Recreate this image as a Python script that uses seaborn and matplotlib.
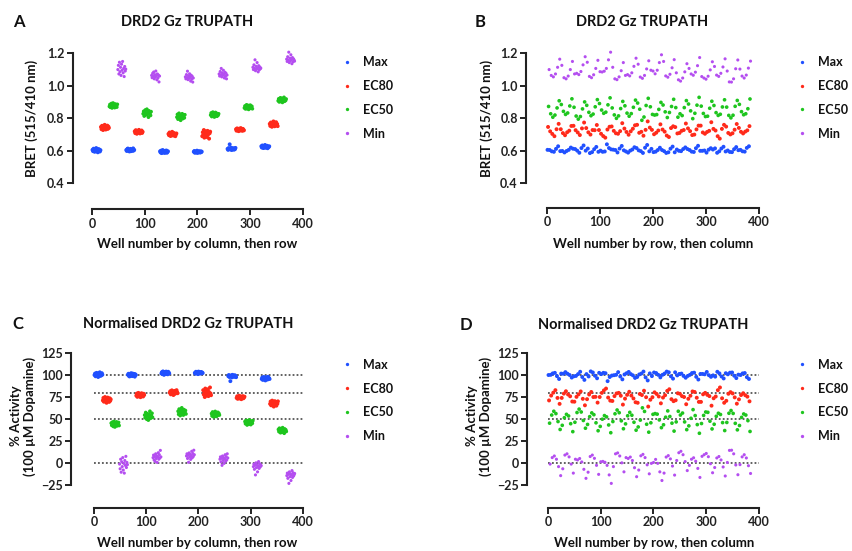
"""
DRD2 Gz TRUPATH plate uniformity: raw BRET and normalised activity.
"""
import numpy as np
import pandas as pd
import matplotlib
matplotlib.use('Agg')
import matplotlib.pyplot as plt
from matplotlib.lines import Line2D
import seaborn as sns

W, H = 853, 551

conditions = ['Max', 'EC80', 'EC50', 'Min']
palette = {'Max': '#2050ff', 'EC80': '#ff2a1a', 'EC50': '#1ec51e', 'Min': '#b44ef0'}
sizes = {'Max': 8, 'EC80': 8, 'EC50': 7, 'Min': 5}

# BRET (515/410 nm) per plate column, rows A-P.
# Plate columns cycle Max, EC80, EC50, Min -> 6 columns per condition.
max_cols = [
    [0.604, 0.596, 0.611, 0.599, 0.592, 0.607, 0.601, 0.615, 0.595, 0.603, 0.589, 0.609, 0.598, 0.606, 0.594, 0.602],
    [0.603, 0.597, 0.609, 0.612, 0.599, 0.605, 0.594, 0.601, 0.610, 0.596, 0.606, 0.603, 0.598, 0.613, 0.600, 0.604],
    [0.595, 0.588, 0.599, 0.584, 0.592, 0.603, 0.587, 0.596, 0.590, 0.585, 0.598, 0.593, 0.600, 0.586, 0.591, 0.595],
    [0.592, 0.597, 0.586, 0.590, 0.594, 0.588, 0.599, 0.585, 0.593, 0.589, 0.596, 0.591, 0.587, 0.595, 0.590, 0.593],
    [0.610, 0.604, 0.615, 0.608, 0.638, 0.612, 0.606, 0.617, 0.603, 0.611, 0.609, 0.614, 0.605, 0.612, 0.608, 0.616],
    [0.626, 0.618, 0.631, 0.622, 0.615, 0.628, 0.620, 0.634, 0.617, 0.624, 0.619, 0.629, 0.614, 0.623, 0.621, 0.626],
]
ec80_cols = [
    [0.745, 0.731, 0.752, 0.738, 0.726, 0.748, 0.735, 0.758, 0.741, 0.729, 0.744, 0.736, 0.753, 0.733, 0.747, 0.739],
    [0.718, 0.707, 0.725, 0.712, 0.703, 0.721, 0.714, 0.709, 0.727, 0.716, 0.705, 0.719, 0.711, 0.723, 0.708, 0.715],
    [0.702, 0.694, 0.711, 0.698, 0.689, 0.706, 0.697, 0.715, 0.700, 0.692, 0.708, 0.695, 0.703, 0.688, 0.699, 0.705],
    [0.688, 0.712, 0.695, 0.726, 0.679, 0.703, 0.718, 0.691, 0.709, 0.683, 0.721, 0.698, 0.714, 0.673, 0.706, 0.716],
    [0.731, 0.722, 0.736, 0.725, 0.729, 0.719, 0.734, 0.727, 0.723, 0.738, 0.726, 0.730, 0.721, 0.733, 0.728, 0.724],
    [0.764, 0.751, 0.772, 0.757, 0.746, 0.768, 0.755, 0.779, 0.761, 0.749, 0.766, 0.753, 0.774, 0.758, 0.763, 0.750],
]
ec50_cols = [
    [0.871, 0.883, 0.866, 0.878, 0.889, 0.862, 0.875, 0.892, 0.869, 0.880, 0.864, 0.886, 0.873, 0.877, 0.867, 0.884],
    [0.826, 0.841, 0.812, 0.835, 0.849, 0.819, 0.830, 0.854, 0.822, 0.838, 0.805, 0.844, 0.828, 0.833, 0.816, 0.839],
    [0.805, 0.822, 0.793, 0.814, 0.829, 0.798, 0.811, 0.786, 0.818, 0.803, 0.826, 0.796, 0.809, 0.816, 0.801, 0.820],
    [0.818, 0.831, 0.809, 0.824, 0.836, 0.813, 0.827, 0.806, 0.821, 0.834, 0.815, 0.829, 0.811, 0.823, 0.817, 0.826],
    [0.862, 0.874, 0.856, 0.869, 0.881, 0.858, 0.866, 0.877, 0.853, 0.871, 0.864, 0.879, 0.860, 0.868, 0.872, 0.857],
    [0.906, 0.918, 0.899, 0.913, 0.924, 0.902, 0.910, 0.921, 0.896, 0.915, 0.907, 0.927, 0.903, 0.912, 0.908, 0.917],
]
min_cols = [
    [1.098, 1.124, 1.071, 1.143, 1.085, 1.112, 1.062, 1.131, 1.094, 1.148, 1.078, 1.105, 1.055, 1.117, 1.089, 1.101],
    [1.062, 1.048, 1.075, 1.056, 1.083, 1.041, 1.067, 1.052, 1.089, 1.059, 1.035, 1.071, 1.046, 1.064, 1.022, 1.058],
    [1.053, 1.041, 1.067, 1.048, 1.088, 1.036, 1.059, 1.044, 1.072, 1.051, 1.027, 1.063, 1.039, 1.056, 1.021, 1.046],
    [1.071, 1.058, 1.086, 1.066, 1.105, 1.053, 1.078, 1.062, 1.094, 1.069, 1.046, 1.082, 1.057, 1.075, 1.041, 1.064],
    [1.112, 1.098, 1.127, 1.105, 1.158, 1.091, 1.118, 1.102, 1.141, 1.109, 1.084, 1.122, 1.096, 1.114, 1.103, 1.107],
    [1.162, 1.148, 1.177, 1.155, 1.205, 1.141, 1.168, 1.152, 1.189, 1.159, 1.134, 1.172, 1.146, 1.164, 1.157, 1.150],
]

bret_ticks = [0.4, 0.6, 0.8, 1.0, 1.2]
pct_ticks = [-25, 0, 25, 50, 75, 100, 125]
pct_refs = [0, 50, 80, 100]
well_ticks = [0, 100, 200, 300, 400]

# assemble the 16 x 24 plate
n_rows, n_cols = 16, 24
plate = np.zeros((n_rows, n_cols))
for i, cols in enumerate([max_cols, ec80_cols, ec50_cols, min_cols]):
    for g, vals in enumerate(cols):
        plate[:, g * 4 + i] = vals

records = []
for r in range(n_rows):
    for c in range(n_cols):
        records.append({'by_col': c * n_rows + r + 1,
                        'by_row': r * n_cols + c + 1,
                        'condition': conditions[c % 4],
                        'bret': plate[r, c]})
df = pd.DataFrame(records)

# normalise to plate mean of Min (0 %) and Max (100 %)
max_mean = df.loc[df.condition == 'Max', 'bret'].mean()
min_mean = df.loc[df.condition == 'Min', 'bret'].mean()
df['pct'] = (min_mean - df['bret']) / (min_mean - max_mean) * 100

sns.set_style("ticks")
plt.rcParams.update({
    'font.family': ['Lato', 'DejaVu Sans'],
    'font.weight': 'bold',
    'axes.labelweight': 'bold',
    'axes.edgecolor': '#222222',
    'xtick.color': '#222222',
    'ytick.color': '#222222',
    'text.color': '#111111',
})

fig = plt.figure(figsize=(W / 100, H / 100), dpi=100)


def px(x, y):
    """pixel position (from top-left) -> figure fraction"""
    return x / W, 1 - y / H


def rect(l, t, r, b):
    return [l / W, 1 - b / H, (r - l) / W, (b - t) / H]


def draw_panel(box, xcol, ycol, ylim, yticks, offsets, legend_anchor, refs=None):
    ax = fig.add_axes(rect(*box))
    if refs:
        for y in refs:
            ax.axhline(y, color='#555555', linestyle=(0, (1, 1.2)), linewidth=1.3, zorder=0)
    sns.scatterplot(data=df, x=xcol, y=ycol, hue='condition', palette=palette,
                    size='condition', sizes=sizes, hue_order=conditions,
                    linewidth=0, legend=False, ax=ax, clip_on=False, zorder=2)
    ax.set_xlim(0, 400)
    ax.set_ylim(*ylim)
    ax.set_xticks(well_ticks)
    ax.set_yticks(yticks)
    if ycol == 'bret':
        ax.set_yticklabels([f'{t:.1f}' for t in yticks])
    ax.set_xlabel('')
    ax.set_ylabel('')
    ax.tick_params(width=1.4, length=4, labelsize=9, pad=2)
    for s in ('left', 'bottom'):
        ax.spines[s].set_linewidth(1.5)
    sns.despine(ax=ax, offset=offsets, trim=True)

    handles = [Line2D([], [], marker='o', linestyle='', markersize=2.4,
                      markeredgewidth=0, color=palette[c]) for c in conditions]
    ax.legend(handles, conditions, loc='center left', bbox_to_anchor=legend_anchor,
              frameon=False, fontsize=9, labelspacing=0.95, handletextpad=0.8,
              handlelength=1.0)
    return ax


# A
draw_panel((92, 53, 303, 183), 'by_col', 'bret', (0.4, 1.2), bret_ticks,
           {'left': 14, 'bottom': 19}, (1.125, 0.655))
# B
draw_panel((547, 53, 759, 183), 'by_row', 'bret', (0.4, 1.2), bret_ticks,
           {'left': 15, 'bottom': 18}, (1.12, 0.655))
# C
draw_panel((94, 353, 303, 485), 'by_col', 'pct', (-25, 125), pct_ticks,
           {'left': 16.5, 'bottom': 16.5}, (1.125, 0.64), refs=pct_refs)
# D
draw_panel((548, 353, 759, 485), 'by_row', 'pct', (-25, 125), pct_ticks,
           {'left': 15, 'bottom': 16.5}, (1.12, 0.64), refs=pct_refs)

# panel letters and titles
for letter, (x, y) in zip('ABCD', [(13, 22), (475, 22), (12, 324), (460, 325)]):
    fig.text(*px(x, y), letter, fontsize=12, fontweight='bold', ha='left', va='center')

titles = [('DRD2 Gz TRUPATH', 187, 22), ('DRD2 Gz TRUPATH', 642, 22),
          ('Normalised DRD2 Gz TRUPATH', 188, 324), ('Normalised DRD2 Gz TRUPATH', 643, 325)]
for text, x, y in titles:
    fig.text(*px(x, y), text, fontsize=10.5, fontweight='bold', ha='center', va='center')

# axis labels
xlabels = [('Well number by column, then row', 197, 244),
           ('Well number by row, then column', 653, 244),
           ('Well number by column, then row', 197, 543),
           ('Well number by row, then column', 654, 543)]
for text, x, y in xlabels:
    fig.text(*px(x, y), text, fontsize=9.5, fontweight='bold', ha='center', va='center')

ylabels = [('BRET (515/410 nm)', 32, 118), ('BRET (515/410 nm)', 487, 118),
           ('% Activity\n(100 µM Dopamine)', 23, 416), ('% Activity\n(100 µM Dopamine)', 479, 416)]
for text, x, y in ylabels:
    fig.text(*px(x, y), text, fontsize=9.5, fontweight='bold', ha='center', va='center',
             rotation=90, linespacing=1.2)

fig.savefig('out.png', dpi=100)
plt.close(fig)
